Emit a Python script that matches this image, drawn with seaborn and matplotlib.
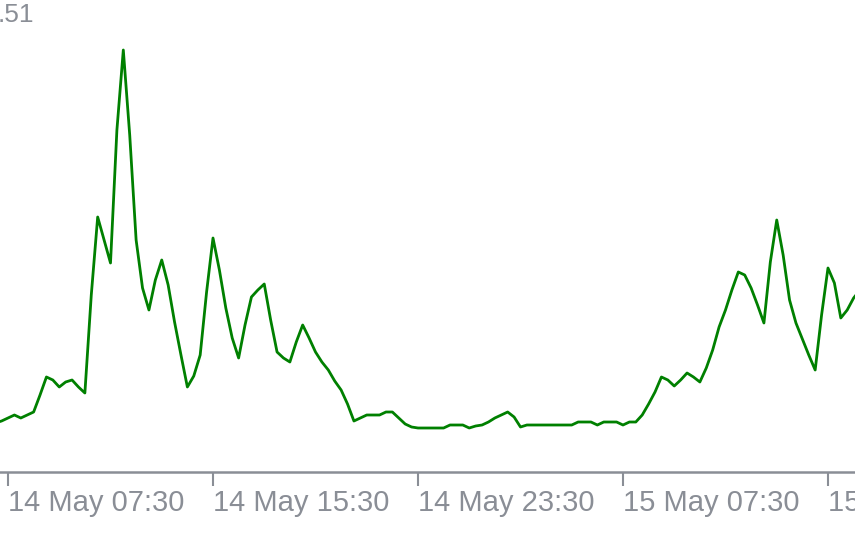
import pandas as pd
import seaborn as sns
import matplotlib.pyplot as plt
import matplotlib.dates as mdates

# 15-minute readings, 14 May 07:00 onwards (height above the axis line)
values = [49, 51, 54, 57, 54, 57, 60, 77, 95, 92, 85, 90, 92, 85, 79,
          177, 255, 232, 209, 342, 422, 337, 232, 184, 162, 192, 212, 187,
          150, 117, 85, 96, 117, 180, 234, 202, 164, 134, 114, 147, 175,
          182, 188, 152, 120, 114, 110, 130, 147, 134, 120, 110, 102, 91,
          82, 68, 51, 54, 57, 57, 57, 60, 60, 54, 48, 45, 44, 44, 44, 44,
          44, 47, 47, 47, 44, 46, 47, 50, 54, 57, 60, 55, 45, 47, 47, 47,
          47, 47, 47, 47, 47, 50, 50, 50, 47, 50, 50, 50, 47, 50, 50, 57,
          68, 80, 95, 92, 86, 92, 99, 95, 90, 104, 122, 145, 162, 182, 200,
          197, 184, 167, 149, 210, 252, 217, 172, 149, 133, 117, 102, 157,
          204, 189, 154, 162, 174, 182]
start_time = '2024-05-14 07:00'
tick_times = ['2024-05-14 07:30', '2024-05-14 15:30', '2024-05-14 23:30',
              '2024-05-15 07:30', '2024-05-15 15:30']
top_label = '.51'

df = pd.DataFrame({
    'time': pd.date_range(start=start_time, periods=len(values), freq='15min'),
    'price': values,
})

sns.set_style('white')
plt.rcParams['font.family'] = ['Liberation Sans', 'DejaVu Sans']
grey = '#8a8e96'

fig = plt.figure(figsize=(8.55, 5.34), dpi=100)
ax = fig.add_axes([0, 62 / 534, 1, 472 / 534])
sns.lineplot(data=df, x='time', y='price', color='#008000', lw=2.0, ax=ax)

ax.set_xlim(pd.Timestamp('2024-05-14 07:11:16'), pd.Timestamp('2024-05-15 16:33:15'))
ax.set_ylim(0, 472)
ax.set_xticks(pd.to_datetime(tick_times))
ax.xaxis.set_major_formatter(mdates.DateFormatter('%d %b %H:%M'))
ax.set_yticks([])
ax.set_xlabel('')
ax.set_ylabel('')

for side in ['top', 'left', 'right']:
    ax.spines[side].set_visible(False)
ax.spines['bottom'].set_color(grey)
ax.spines['bottom'].set_linewidth(1.8)
ax.tick_params(axis='x', bottom=True, direction='out', length=10, width=1.5,
               color=grey, labelcolor=grey, labelsize=21, pad=2.5)
for lbl in ax.get_xticklabels():
    lbl.set_ha('left')

fig.text(-0.003, 1 - 3 / 534, top_label, color=grey, fontsize=19, ha='left', va='top')

fig.savefig('out.png', dpi=100, facecolor='white')
